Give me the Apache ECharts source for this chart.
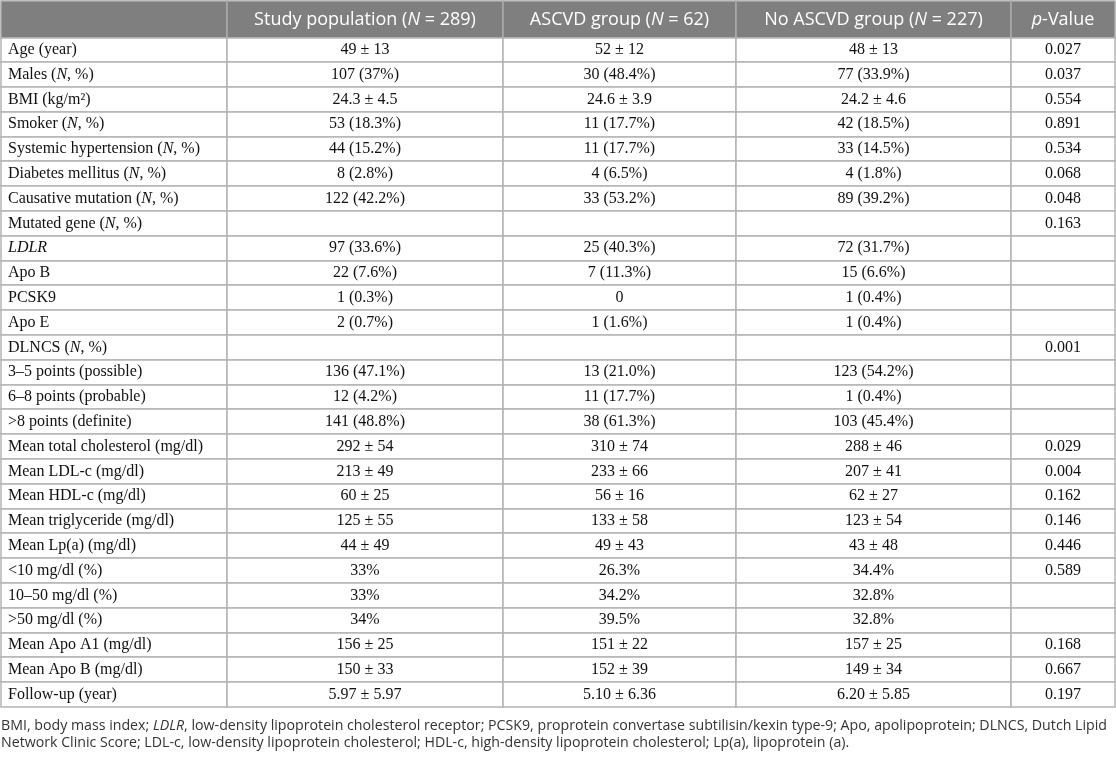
<!DOCTYPE html>
<html><head><meta charset="utf-8">
<script src="https://cdn.jsdelivr.net/npm/echarts@6/dist/echarts.min.js"></script>
<style>html,body{margin:0;padding:0;background:#fff}#c{width:1116px;height:758px}</style>
</head><body><div id="c"></div>
<script>
// ---- data ----
const headers = ['', 'Study population ({i|N} = 289)', 'ASCVD group ({i|N} = 62)', 'No ASCVD group ({i|N} = 227)', '{i|p}-Value'];
const rowLabels = [
  'Age (year)', 'Males ({i|N}, %)', 'BMI (kg/m\u00B2)', 'Smoker ({i|N}, %)', 'Systemic hypertension ({i|N}, %)',
  'Diabetes mellitus ({i|N}, %)', 'Causative mutation ({i|N}, %)', 'Mutated gene ({i|N}, %)', '{i|LDLR}', 'Apo B',
  'PCSK9', 'Apo E', 'DLNCS ({i|N}, %)', '3\u20135 points (possible)', '6\u20138 points (probable)',
  '>8 points (definite)', 'Mean total cholesterol (mg/dl)', 'Mean LDL-c (mg/dl)', 'Mean HDL-c (mg/dl)',
  'Mean triglyceride (mg/dl)', 'Mean Lp(a) (mg/dl)', '<10 mg/dl (%)', '10\u201350 mg/dl (%)', '>50 mg/dl (%)',
  'Mean Apo A1 (mg/dl)', 'Mean Apo B (mg/dl)', 'Follow-up (year)'
];
const studyPopulation = [
  '49 \u00B1 13', '107 (37%)', '24.3 \u00B1 4.5', '53 (18.3%)', '44 (15.2%)', '8 (2.8%)', '122 (42.2%)', '',
  '97 (33.6%)', '22 (7.6%)', '1 (0.3%)', '2 (0.7%)', '', '136 (47.1%)', '12 (4.2%)', '141 (48.8%)',
  '292 \u00B1 54', '213 \u00B1 49', '60 \u00B1 25', '125 \u00B1 55', '44 \u00B1 49', '33%', '33%', '34%',
  '156 \u00B1 25', '150 \u00B1 33', '5.97 \u00B1 5.97'
];
const ascvdGroup = [
  '52 \u00B1 12', '30 (48.4%)', '24.6 \u00B1 3.9', '11 (17.7%)', '11 (17.7%)', '4 (6.5%)', '33 (53.2%)', '',
  '25 (40.3%)', '7 (11.3%)', '0', '1 (1.6%)', '', '13 (21.0%)', '11 (17.7%)', '38 (61.3%)',
  '310 \u00B1 74', '233 \u00B1 66', '56 \u00B1 16', '133 \u00B1 58', '49 \u00B1 43', '26.3%', '34.2%', '39.5%',
  '151 \u00B1 22', '152 \u00B1 39', '5.10 \u00B1 6.36'
];
const noAscvdGroup = [
  '48 \u00B1 13', '77 (33.9%)', '24.2 \u00B1 4.6', '42 (18.5%)', '33 (14.5%)', '4 (1.8%)', '89 (39.2%)', '',
  '72 (31.7%)', '15 (6.6%)', '1 (0.4%)', '1 (0.4%)', '', '123 (54.2%)', '1 (0.4%)', '103 (45.4%)',
  '288 \u00B1 46', '207 \u00B1 41', '62 \u00B1 27', '123 \u00B1 54', '43 \u00B1 48', '34.4%', '32.8%', '32.8%',
  '157 \u00B1 25', '149 \u00B1 34', '6.20 \u00B1 5.85'
];
const pValues = [
  '0.027', '0.037', '0.554', '0.891', '0.534', '0.068', '0.048', '0.163', '', '', '', '', '0.001', '', '', '',
  '0.029', '0.004', '0.162', '0.146', '0.446', '0.589', '', '', '0.168', '0.667', '0.197'
];
const footnoteLines = [
  'BMI, body mass index; {i|LDLR}, low-density lipoprotein cholesterol receptor; PCSK9, proprotein convertase subtilisin/kexin type-9; Apo, apolipoprotein; DLNCS, Dutch Lipid',
  'Network Clinic Score; LDL-c, low-density lipoprotein cholesterol; HDL-c, high-density lipoprotein cholesterol; Lp(a), lipoprotein (a).'
];

// ---- layout (not data) ----
const colEdges = [1, 227, 503, 736, 1011, 1115];
const columns = [rowLabels, studyPopulation, ascvdGroup, noAscvdGroup, pValues];

const bodyData = [];
const bodyText = [];
rowLabels.forEach((_, r) => {
  for (let c = 0; c < 5; c++) { bodyData.push([c, r]); bodyText.push(columns[c][r]); }
});
const headData = headers.map((h, c) => [c, 0]);

const SERIF = '"Liberation Serif", "Times New Roman", serif';
const SANS = '"Open Sans", "Noto Sans", sans-serif';

function cellRenderer(texts, opts) {
  return function (params, api) {
    const c = api.value(0), r = api.value(1);
    const p0 = api.coord([colEdges[c], r]);
    const p1 = api.coord([colEdges[c + 1], r]);
    const h = api.size([0, 1])[1];
    const yTop = Math.round(p0[1] - h / 2);
    const yBot = Math.round(p0[1] + h / 2);
    const xL = Math.round(p0[0]), xR = Math.round(p1[0]);
    const txt = texts[params.dataIndex];
    const left = (c === 0 && opts.leftFirst);
    return {
      type: 'group',
      children: [
        { type: 'rect', shape: { x: xL, y: yTop, width: xR - xL, height: yBot - yTop },
          style: { fill: opts.fill, stroke: opts.stroke, lineWidth: 1.5 } },
        { type: 'text',
          style: {
            text: txt, x: left ? xL + 7 : (xL + xR) / 2, y: p0[1] + opts.dy,
            align: left ? 'left' : 'center', verticalAlign: 'middle',
            textAlign: left ? 'left' : 'center', textVerticalAlign: 'middle',
            fontSize: opts.fontSize, fontFamily: opts.fontFamily, fill: opts.color,
            rich: { i: { fontStyle: 'italic', fontSize: opts.fontSize, fontFamily: opts.fontFamily, fill: opts.color } }
          } }
      ]
    };
  };
}

const chart = echarts.init(document.getElementById('c'), null, { renderer: 'canvas' });
chart.setOption({
  animation: false,
  grid: [
    { left: 0, width: 1116, top: 1, height: 36.5 },
    { left: 0, width: 1116, top: 37.5, height: 669.5 }
  ],
  xAxis: [
    { type: 'value', gridIndex: 0, min: 0, max: 1116, show: false },
    { type: 'value', gridIndex: 1, min: 0, max: 1116, show: false }
  ],
  yAxis: [
    { type: 'category', gridIndex: 0, data: ['header'], inverse: true, show: false },
    { type: 'category', gridIndex: 1, data: rowLabels, inverse: true, show: false }
  ],
  graphic: [{
    type: 'text', left: 1, top: 717,
    style: {
      text: footnoteLines.join('\n'), fontSize: 14.2, fontFamily: SANS, fill: '#333', lineHeight: 17,
      rich: { i: { fontStyle: 'italic', fontSize: 14.2, fontFamily: SANS, fill: '#333', lineHeight: 17 } }
    }
  }],
  series: [
    { type: 'custom', xAxisIndex: 0, yAxisIndex: 0, data: headData,
      renderItem: cellRenderer(headers, { fill: '#7f7f7f', stroke: '#ababab', color: '#fff', fontSize: 18, fontFamily: SANS, dy: 1, leftFirst: false }) },
    { type: 'custom', xAxisIndex: 1, yAxisIndex: 1, data: bodyData,
      renderItem: cellRenderer(bodyText, { fill: '#fff', stroke: '#b4b4b4', color: '#111', fontSize: 16, fontFamily: SERIF, dy: 0, leftFirst: true }) }
  ]
});
</script></body></html>
